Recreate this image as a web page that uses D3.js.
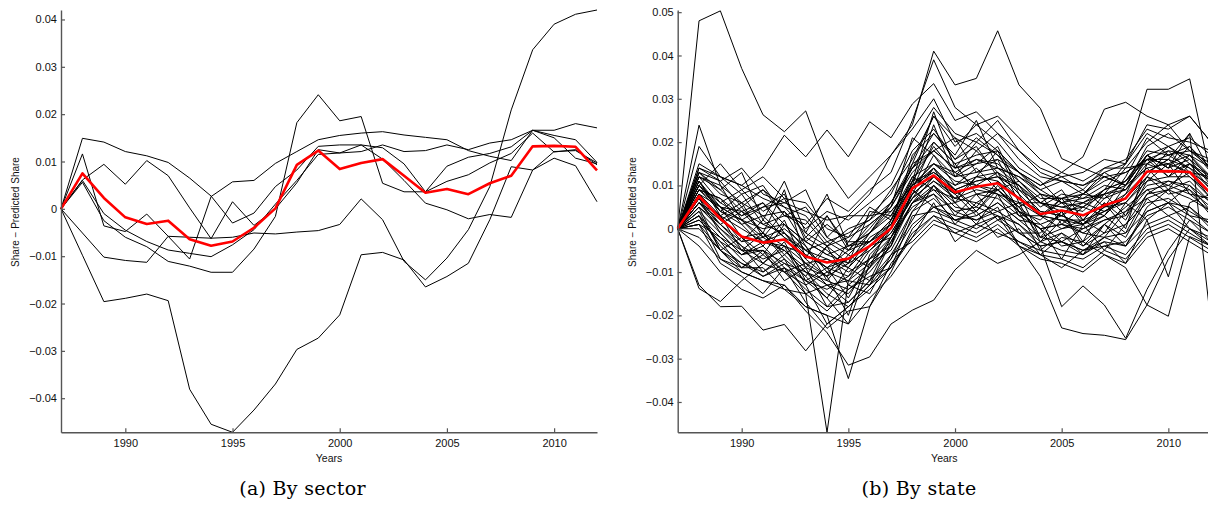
<!DOCTYPE html>
<html>
<head>
<meta charset="utf-8">
<script src="https://d3js.org/d3.v7.min.js"></script>
<style>
  body { margin: 0; background: #fff; }
  svg { display: block; }
</style>
</head>
<body>
<div id="my_dataviz"></div>
<script>
// all series values are in thousandths (0.001) of share
var years = [1987, 1988, 1989, 1990, 1991, 1992, 1993, 1994, 1995, 1996, 1997, 1998, 1999,
             2000, 2001, 2002, 2003, 2004, 2005, 2006, 2007, 2008, 2009, 2010, 2011, 2012];
var xTicks = [1990, 1995, 2000, 2005, 2010];
var yTicksSector = [-0.04, -0.03, -0.02, -0.01, 0, 0.01, 0.02, 0.03, 0.04];
var yTicksState = [-0.04, -0.03, -0.02, -0.01, 0, 0.01, 0.02, 0.03, 0.04, 0.05];

// red line = average
var meanShare = [0, 7.5, 2.3, -1.8, -3.2, -2.5, -6.4, -7.8, -6.9, -4.0, 0.1, 9.3, 12.3,
                 8.4, 9.7, 10.5, 7.0, 3.4, 4.2, 3.1, 5.4, 7.0, 13.2, 13.3, 13.1, 8.1];

// (a) by sector
var sectorSeries = [
  [0, -9.8, -19.6, -18.9, -18.0, -19.4, -38.1, -45.5, -47.2, -42.5, -37.0, -29.7, -27.3, -22.4, -9.7, -9.2, -10.8, -16.5, -14.3, -11.5, -2.3, 8.9, 8.2, 12.1, 12.3, 9.7],
  [0, -5.1, -10.2, -10.9, -11.3, -5.8, -6.0, -6.2, -6.0, -5.1, -5.3, -4.9, -4.6, -3.3, 2.1, -2.3, -11.1, -15.0, -10.4, -4.4, 4.7, 20.9, 33.6, 39.0, 41.1, 42.0],
  [0, 14.9, 14.1, 12.1, 11.2, 9.8, 6.5, 2.7, -3.0, -0.9, 4.7, 8.2, 13.2, 13.5, 13.5, 12.9, 9.5, 3.6, 5.8, 7.2, 9.7, 11.7, 16.0, 12.0, 12.5, 9.3],
  [0, 11.6, -3.6, -4.8, -1.1, -5.8, -10.6, 2.6, 5.7, 6.0, 9.6, 12.1, 14.6, 15.5, 16.0, 16.3, 15.6, 15.1, 14.6, 12.3, 11.1, 10.2, 16.6, 16.6, 18.0, 17.1],
  [0, 6.1, 9.4, 5.2, 10.2, 7.0, 0.2, -6.3, 1.5, -3.5, 0.0, 5.5, 12.5, 11.8, 12.1, 13.5, 12.1, 12.3, 13.5, 12.5, 13.9, 14.6, 16.6, 15.5, 14.6, 9.8],
  [0, 6.0, -1.0, -4.5, -6.9, -8.7, -9.4, -10.1, -7.6, -4.4, 1.0, 6.0, 11.5, 11.8, 13.5, 10.5, 6.0, 1.2, -0.2, -2.1, -1.2, -1.8, 8.2, 10.7, 9.1, 1.5],
  [0, 5.6, -2.5, -6.0, -8.0, -11.1, -12.1, -13.4, -13.4, -8.5, -1.6, 18.2, 24.1, 18.6, 19.5, 5.4, 3.6, 3.6, 9.0, 10.9, 11.7, 13.1, 16.6, 15.0, 10.7, 9.5]
];

// (b) by state
var stateHigh = [
  [0, 48, 50.3, 37, 26.3, 22.4, 27.2, 14, 7, 12, 17, 23, 30, 20, 22, 18, 13, 9, 6, 7, 10, 9, 15, 13, 15, 11],
  [0, 19, 12, 10, 14, 21.6, 16.6, 22.8, 16.6, 24.7, 21, 28.8, 33.5, 25, 27, 22, 18, 13, 11, 10, 12, 13, 16, 15, 17, 14],
  [0, 10, 6, 3, 5, 6, 4, 2, 3, 8, 17, 24, 41, 33.2, 34.7, 45.7, 33.2, 27.8, 16.2, 14, 12, 10, 17, 12, 15, 11],
  [0, 14, 11, 5, 9, 3, 1, 7, 4, 9, 13, 25, 39, 28, 24, 26, 21, 16, 13, 11, 14, 16, 23, 21, 20, 18],
  [0, 9, 4, 1, 3, -2, -5, -3, -6, -1, 5, 13, 18, 14, 15, 16, 13, 10, 13, 16.6, 27.6, 29.2, 26, 24, 26, 20],
  [0, 6, 2, -2, -1, -4, -6, -9, -5, -3, 2, 10, 14, 9, 11, 12, 9, 6, 5, 4, 9, 15, 32.2, 32.2, 34.6, 12],
  [0, 23.9, 10, 6, 3, 4, -1, -4, -2, 1, 5, 14, 18, 14, 16, 15, 11, 7, 7, 6, 9, 11, 18, 17, 19, 14],
  [0, 15, 12, 10, 7, 5, 3, -3, -1, 2, 6, 15, 26, 21, 18, 22, 16, 12, 11, 10, 13, 15, 22, 19, 21, 17],
  [0, 13, 8, 6, 9, 5, 0, 4, 2, 6, 10, 20, 28, 22, 20, 25, 18, 14, 12, 13, 16, 15, 24, 23, 26, 20]
];
var stateMid = [
  [0, 13, 9, 4, 6, -1, -5, -9, -11, -4, -2, 8, 17, 10, 14, 9, 5, 8, 1, 5, 3, 8, 17, 14, 16, 10],
  [0, 11, 3, 6, -2, 4, -4, -12, -6, -9, 2, 15, 18, 21, 13, 16, 6, 6, 9, 2, 8, 3, 12, 18, 13, 12],
  [0, 5, -5, -2, -8, -3, -12, -9, -16, -7, -4, 9, 5, 6, 1, 8, -1, -1, 4, -4, 1, 5, 9, 6, 10, 4],
  [0, 9, 7, 1, -4, 2, -9, -4, -8, -1, 6, 14, 22, 16, 19, 12, 10, 3, 7, 9, 5, 12, 21, 17, 18, 14],
  [0, 3, -7, -9, -5, -12, -9, -18, -13, -15, -6, 2, 10, 3, 8, 2, 4, -5, -1, -6, 1, -4, 5, 9, 3, 2],
  [0, 14, 12, 8, 10, 3, 2, -4, 0, 2, 9, 16, 26, 19, 24, 20, 14, 11, 6, 8, 12, 10, 19, 22, 18, 15],
  [0, 7, 1, 4, -1, -6, -2, -5, -9, -2, 1, 12, 9, 7, 12, 13, 4, 2, 7, 1, 3, 10, 14, 9, 15, 9],
  [0, 1, -8, -11, -15, -9, -17, -23, -19, -18, -8, -2, 6, -3, 1, 3, -4, -6, -9, -5, -3, -8, 2, 6, 0, -2],
  [0, 12, 10, 2, 5, 8, -3, 1, -3, 3, 4, 10, 15, 13, 10, 9, 11, 6, 3, 8, 7, 11, 16, 12, 17, 11],
  [0, 6, 3, -5, -5, -10, -8, -13, -12, -5, -1, 7, 14, 9, 5, 11, 3, 3, 0, 1, 6, 2, 11, 15, 8, 7],
  [0, 10, 15, 9, 12, 7, 6, 0, -2, 5, 2, 11, 19, 13, 16, 14, 12, 9, 11, 8, 13, 10, 17, 14, 19, 13],
  [0, 4, -1, -6, -3, -4, -13, -10, -12, -13, -3, 6, 8, 1, 6, 4, 6, -3, 2, -1, -2, 4, 7, 9, 11, 6],
  [0, 8, 2, 5, -1, 9, -7, -11, -3, -3, 1, 9, 14, 6, 12, 11, 7, 4, 3, 6, 4, 7, 13, 16, 12, 8],
  [0, 2, -3, -9, -9, -14, -15, -19, -14, -11, -9, 3, 4, 2, 4, -2, 0, -6, -2, -3, 1, -2, 7, 3, 5, 1],
  [0, 13, 11, 14, 8, 6, 9, -2, 3, 3, 8, 18, 23, 16, 21, 17, 13, 10, 12, 9, 14, 14, 20, 24, 18, 16],
  [0, 6, 0, -5, -1, -7, -11, -4, -13, -9, -2, 6, 12, 8, 3, 6, 2, 1, -3, 0, 3, -1, 8, 11, 9, 3],
  [0, 9, 5, -2, -6, 1, -3, -6, -8, 4, 3, 11, 13, 10, 12, 18, 8, 3, 6, 2, 7, 9, 14, 15, 13, 10],
  [0, 11, 4, 8, 1, 3, 5, -2, -5, 1, 5, 21, 17, 12, 18, 13, 10, 5, 8, 7, 8, 14, 15, 19, 15, 12],
  [0, 5, 1, -4, -10, -6, -11, -16, -9, -12, -2, 8, 12, 9, 4, 10, 5, -2, 0, 2, -1, 6, 12, 8, 9, 5],
  [0, 12, 6, 9, 4, 7, -2, 3, -4, -1, 4, 10, 24, 12, 15, 19, 9, 4, 3, 1, 5, 8, 13, 16, 14, 11],
  [0, 7, 3, -3, 2, -2, -8, -7, -10, -7, 0, 9, 20, 15, 8, 9, 4, 0, 1, 0, 2, 4, 10, 11, 10, 6],
  [0, 10, 4, 2, -2, 0, -4, -10, -7, -4, 1, 10, 15, 11, 10, 13, 8, -2, 4, -3, 6, 0, 15, 17, 14, 9],
  [0, 3, -2, -5, -8, -4, -8, -11, -20, -6, -1, 7, 11, 8, 10, 8, 6, 3, 2, 2, 4, 7, 12, 10, 13, 7],
  [0, 8, 5, 2, -3, -5, -10, -12, -14, -10, -4, 11, 27, 14, 20, 17, 11, 6, 4, 5, 8, 10, 17, 19, 16, 12],
  [0, 12, 9, 13, 2, 11, -1, 8, -4, -3, 0, 7, 11, 7, 6, 9, 5, 1, 3, 1, 4, 6, 11, 12, 12, 7],
  [0, 7, -1, -6, -4, -9, -12, -16, -22, -8, -5, 4, 10, 5, 4, 9, 4, 0, -7, 1, -5, 1, 8, 9, 7, 4],
  [0, 9, 7, 3, 6, 1, -5, -7, -9, -4, 0, 17, 22, 17, 25, 14, 12, 8, 6, 5, 9, 11, 17, 14, 22, 13],
  [0, 11, 5, 4, 1, -1, -7, 3, -5, 0, 6, 14, 20, 15, 17, 18, 13, 8, 7, 8, 11, 13, 16, 18, 17, 12]
];
var stateLow = [
  [0, -13.8, -16.8, -12, -8, -10, -15, -13, -17, -12, -6, -3, 2, 0, -2, 1, -3, -6, -7, -9, -5, -7, -1, 1, -2, -5],
  [0, -13, -18, -17.9, -23.4, -22.1, -28.2, -22, -18, -14, -9, -2, 3, 1, -1, 2, -1, -4, -3, -5, -2, -4, 4, 6, 5, 0],
  [0, 2, -3, -6, -5, -8, -12, -14, -11, -7, -2, 5, 8, 4, 2, 5, -4, -11, -22.9, -24.2, -24.6, -25.6, -17.6, -7, 0, -4],
  [0, 5, 0, -4, -7, -5, -10, -13, -15, -9, -4, 6, 9, 4, 5, 3, 1, -4, -18, -13.2, -17.6, -25.3, -14, -5, 2, -1],
  [0, 3, -4, -8, -10, -7, -15, -47, -12, -8, -3, 6, 10, 6, 8, 7, 3, 0, 1, -1, 2, 3, 9, 10, 8, 4],
  [0, 1, -5, -10, -12, -13, -18, -20, -34.6, -18, -10, 0, 5, 2, 0, 3, -1, -4, -3, -6, -2, -1, 4, 6, 3, -1],
  [0, -4, -10, -14, -16, -13, -19, -24, -31.5, -29.6, -22, -18.8, -16.5, -9.5, -5, -8, -6, -3, -5, -6, -3, -4, 1, 3, 0, -3],
  [0, 6, 1, -3, -2, -5, -9, -11, -8, -5, 0, 8, 12, 7, 9, 8, 4, 0, -4, -3, -6, -9, -17.6, -20.2, -1.8, -4],
  [0, 10, 5, 2, 0, 1, -3, -6, -4, -1, 3, 12, 15, 12, 13, 14, 10, 6, 5, 6, 8, 9, 16, 16, 22, -22],
  [0, 8, 3, 0, -3, -1, -6, -9, -7, -3, 2, 10, 13, 9, 11, 12, 7, 3, 2, 1, 5, 6, 2, -11.1, 6, 8],
  [0, -2, -7, -10, -12, -14, -18, -20, -22, -16, -11, -4, 1, -1, -3, 0, -4, -7, -8, -10, -6, -8, -2, 0, -3, -6],
  [0, 4, -5, -9, -6, -10, -13, -22, -18, -13, -7, 4, 7, 2, 3, 6, 2, -2, -3, -5, -4, -3, 3, 5, 2, -3],
  [0, 0, -5, -8, -11, -9, -14, -18, -17, -12, -7, 1, 5, 3, 2, 4, 1, -3, -1, -4, -1, 1, 6, 7, 4, 1],
  [0, 1, -2, -7, -11, -8, -10, -15, -18, -13, -9, -1, 3, -1, 1, -1, -3, -5, -6, -7, -4, -6, 0, 2, -1, -4]
];
var stateSeries = stateHigh.concat(stateMid, stateLow);

var W = 1208, H = 506;

var svg = d3.select("#my_dataviz")
  .append("svg")
    .attr("width", W)
    .attr("height", H);

var fmt = function(d) { return d === 0 ? "0" : d3.format(".2f")(d); };

function drawPanel(p) {
  var x = d3.scaleLinear().domain([1987, 2012]).range([p.left, p.right]);
  var y = d3.scaleLinear().domain(p.yDomain).range([432.3, 10]);

  var g = svg.append("g");

  var line = d3.line()
    .x(function(d, i) { return x(years[i]); })
    .y(function(d) { return y(d / 1000); });

  // black lines, one per unit
  g.append("g")
    .selectAll("path")
    .data(p.series)
    .enter().append("path")
      .attr("d", line)
      .attr("fill", "none")
      .attr("stroke", "#000")
      .attr("stroke-width", 1);

  // average in red on top
  g.append("path")
    .attr("d", line(meanShare))
    .attr("fill", "none")
    .attr("stroke", "#ff0000")
    .attr("stroke-width", 2.6)
    .attr("stroke-linejoin", "round");

  // axes, ticks point inward like matlab
  var yAxis = g.append("g")
    .attr("transform", "translate(" + p.left + ",0)")
    .call(d3.axisLeft(y).tickValues(p.yTicks).tickFormat(fmt)
      .tickSizeInner(-4).tickSizeOuter(0).tickPadding(4));
  var xAxis = g.append("g")
    .attr("transform", "translate(0,432.3)")
    .call(d3.axisBottom(x).tickValues(xTicks).tickFormat(d3.format("d"))
      .tickSizeInner(-4).tickSizeOuter(0).tickPadding(7));

  [yAxis, xAxis].forEach(function(a) {
    a.select(".domain").attr("stroke", "#555").attr("stroke-width", 1.4);
    a.selectAll(".tick line").attr("stroke", "#555").attr("stroke-width", 1.2);
    a.selectAll("text")
      .attr("fill", "#111")
      .style("font-family", "'Liberation Sans', Arial, sans-serif")
      .style("font-size", "11px");
  });

  g.append("text")
    .attr("x", (p.left + p.right) / 2)
    .attr("y", 462)
    .attr("text-anchor", "middle")
    .style("font-family", "'Liberation Sans', Arial, sans-serif")
    .style("font-size", "10.5px")
    .attr("fill", "#111")
    .text("Years");

  g.append("text")
    .attr("transform", "translate(" + p.yLabelX + ",212) rotate(-90)")
    .attr("text-anchor", "middle")
    .style("font-family", "'Liberation Sans', Arial, sans-serif")
    .style("font-size", "10px")
    .attr("fill", "#111")
    .text("Share \u2212 Predicted Share");

  // caption below each panel
  g.append("text")
    .attr("x", p.captionX)
    .attr("y", 495)
    .attr("text-anchor", "middle")
    .style("font-family", "'DejaVu Serif', serif")
    .style("font-size", "19px")
    .style("letter-spacing", "0.3px")
    .attr("fill", "#000")
    .text(p.caption);
}

drawPanel({
  left: 61, right: 597,
  yDomain: [-0.0472, 0.042],
  yTicks: yTicksSector,
  series: sectorSeries,
  yLabelX: 19,
  caption: "(a) By sector", captionX: 302.5
});

drawPanel({
  left: 677.7, right: 1211,
  yDomain: [-0.047, 0.0505],
  yTicks: yTicksState,
  series: stateSeries,
  yLabelX: 636,
  caption: "(b) By state", captionX: 919
});
</script>
</body>
</html>
